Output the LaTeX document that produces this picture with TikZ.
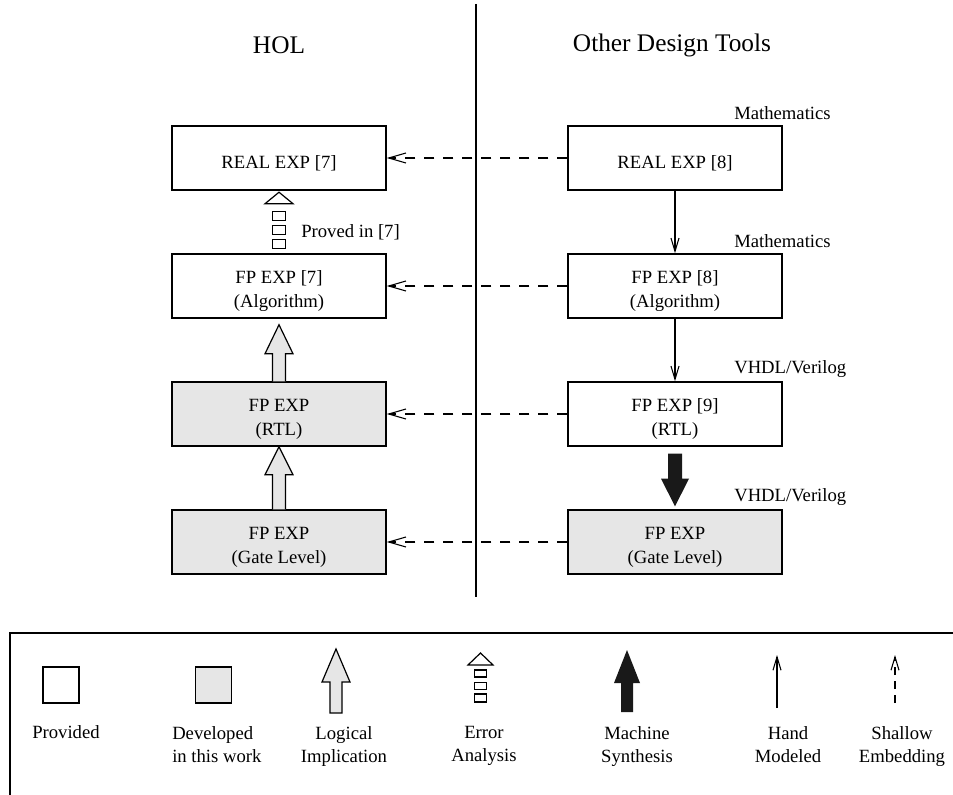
\documentclass[tikz,border=0pt]{standalone}
\usepackage{fontspec}
\setmainfont{Liberation Serif}
\usetikzlibrary{arrows.meta,calc}
\definecolor{devgray}{HTML}{E6E6E6}
\newcommand\bxstrut{\rule{0pt}{17pt}}
\begin{document}
\begin{tikzpicture}[x=0.75pt,y=-0.75pt,
  box/.style={draw,line width=1.1pt,minimum width=160.5pt,minimum height=48pt,inner sep=0pt,
    align=center,font=\fontsize{14}{18}\selectfont},
  devbox/.style={box,fill=devgray},
  head/.style={font=\fontsize{19}{22}\selectfont,inner sep=0pt},
  lbl/.style={font=\fontsize{14}{17}\selectfont,inner sep=0pt},
  leg/.style={font=\fontsize{14}{17.25}\selectfont,inner sep=0pt,align=center},
  dasharrow/.style={line width=0.8pt,dash pattern=on 7.5pt off 6.75pt,
    -{Straight Barb[length=13pt,width=7.5pt,line width=0.8pt]}},
  thinarrow/.style={line width=0.8pt,-{Straight Barb[length=10pt,width=6pt,line width=0.8pt]}},
  fatgray/.style={draw,line width=0.9pt,fill=devgray},
  fatblack/.style={fill=black!90},
  erra/.style={draw,line width=0.9pt,fill=white},
  divider/.style={line width=2pt},
  frame/.style={line width=1pt}
]
\useasboundingbox (0,0) rectangle (953,795);

% headings and divider
\node[head] (hol) at (279,45) {HOL};
\node[head] (odt) at (672,45) {Other Design Tools};
\coordinate (dtop) at (476,4);
\coordinate (dbot) at (476,597);
\draw[divider] (dtop) -- (dbot);

% HOL column
\node[box] (real7) at (279,158) {\bxstrut REAL EXP [7]};
\node[box] (alg7) at (279,286) {\bxstrut FP EXP [7]\\(Algorithm)};
\node[devbox] (rtlH) at (279,414) {\bxstrut FP EXP\\(RTL)};
\node[devbox] (gateH) at (279,542) {\bxstrut FP EXP\\(Gate Level)};

% Other design tools column
\node[box] (real8) at (675,158) {\bxstrut REAL EXP [8]};
\node[box] (alg8) at (675,286) {\bxstrut FP EXP [8]\\(Algorithm)};
\node[box] (rtl9) at (675,414) {\bxstrut FP EXP [9]\\(RTL)};
\node[devbox] (gateO) at (675,542) {\bxstrut FP EXP\\(Gate Level)};

% level labels
\node[lbl,anchor=west] (m1) at (734,113) {Mathematics};
\node[lbl,anchor=west] (m2) at (734,241) {Mathematics};
\node[lbl,anchor=west] (v1) at (734,369) {VHDL/Verilog};
\node[lbl,anchor=west] (v2) at (734,497) {VHDL/Verilog};

% shallow embedding arrows
\draw[dasharrow] (real8.west) -- (real7.east);
\draw[dasharrow] (alg8.west) -- (alg7.east);
\draw[dasharrow] (rtl9.west) -- (rtlH.east);
\draw[dasharrow] (gateO.west) -- (gateH.east);

% hand modeled arrows
\draw[thinarrow] (real8.south) -- (alg8.north);
\draw[thinarrow] (alg8.south) -- (rtl9.north);

% machine synthesis
\fill[fatblack] ($(rtl9.south)+(-7,7)$) -- ($(rtl9.south)+(7,7)$) -- ($(rtl9.south)+(7,32)$)
  -- ($(rtl9.south)+(14,32)$) -- ($(gateO.north)+(0,-3)$) -- ($(rtl9.south)+(-14,32)$)
  -- ($(rtl9.south)+(-7,32)$) -- cycle;

% logical implication arrows
\path[fatgray] ($(rtlH.north)+(-6.5,0)$) -- ($(alg7.south)+(-6.5,35)$) -- ($(alg7.south)+(-14,35)$)
  -- ($(alg7.south)+(0,6)$) -- ($(alg7.south)+(14,35)$) -- ($(alg7.south)+(6.5,35)$)
  -- ($(rtlH.north)+(6.5,0)$);
\path[fatgray] ($(gateH.north)+(-6.5,0)$) -- ($(rtlH.south)+(-6.5,28)$) -- ($(rtlH.south)+(-14,28)$)
  -- ($(rtlH.south)+(0,0)$) -- ($(rtlH.south)+(14,28)$) -- ($(rtlH.south)+(6.5,28)$)
  -- ($(gateH.north)+(6.5,0)$);

% error analysis
\path[erra] ($(real7.south)+(-14,13)$) -- ($(real7.south)+(14,13)$) -- ($(real7.south)+(0,1.5)$) -- cycle;
\path[erra] ($(real7.south)+(-6.5,21)$) rectangle ($(real7.south)+(6.5,29.5)$);
\path[erra] ($(real7.south)+(-6.5,35)$) rectangle ($(real7.south)+(6.5,43.5)$);
\path[erra] ($(real7.south)+(-6.5,49)$) rectangle ($(real7.south)+(6.5,58)$);
\node[lbl,anchor=west] (proved) at (301,232) {Proved in [7]};

% legend frame
\coordinate (fr1) at (953,633);
\coordinate (fr2) at (10,633);
\coordinate (fr3) at (10,795);
\draw[frame] (fr1) -- (fr2) -- (fr3);

% legend: provided
\node[draw,line width=1.1pt,minimum size=27pt,inner sep=0pt] (lprov) at (61,685) {};
\node[leg] (tprov) at (66,732) {Provided};
% legend: developed
\node[draw,line width=1.1pt,fill=devgray,minimum size=27pt,inner sep=0pt] (ldev) at (213.5,685) {};
\node[leg,align=left,anchor=north west] (tdev) at (172,726) {Developed\\in this work};
% legend: logical implication
\coordinate (lli) at (336,713);
\path[fatgray] ($(lli)+(-6,0)$) -- ($(lli)+(-6,-31)$) -- ($(lli)+(-14,-31)$) -- ($(lli)+(0,-64)$)
  -- ($(lli)+(14,-31)$) -- ($(lli)+(6,-31)$) -- ($(lli)+(6,0)$) -- cycle;
\node[leg,anchor=north] (tli) at (344,726) {Logical\\Implication};
% legend: error analysis
\coordinate (lea) at (480.5,702);
\path[erra] ($(lea)+(-12.5,-37)$) -- ($(lea)+(12.5,-37)$) -- ($(lea)+(0,-49)$) -- cycle;
\path[erra] ($(lea)+(-6,-32)$) rectangle ($(lea)+(6,-25)$);
\path[erra] ($(lea)+(-6,-19.5)$) rectangle ($(lea)+(6,-12.5)$);
\path[erra] ($(lea)+(-6,-8)$) rectangle ($(lea)+(6,0)$);
\node[leg,anchor=north] (tea) at (484,726) {Error\\Analysis};
% legend: machine synthesis
\coordinate (lms) at (627,712);
\fill[fatblack] ($(lms)+(-6,0)$) -- ($(lms)+(-6,-29)$) -- ($(lms)+(-13,-29)$) -- ($(lms)+(0,-62)$)
  -- ($(lms)+(13,-29)$) -- ($(lms)+(6,-29)$) -- ($(lms)+(6,0)$) -- cycle;
\node[leg,anchor=north] (tms) at (637,726) {Machine\\Synthesis};
% legend: hand modeled
\coordinate (lhm1) at (777,708);
\coordinate (lhm2) at (777,655);
\draw[thinarrow] (lhm1) -- (lhm2);
\node[leg,anchor=north] (thm) at (788,726) {Hand\\Modeled};
% legend: shallow embedding
\coordinate (lse1) at (895,703);
\coordinate (lse2) at (895,655);
\draw[thinarrow,dash pattern=on 6pt off 4.5pt] (lse1) -- (lse2);
\node[leg,anchor=north] (tse) at (902,726) {Shallow\\Embedding};
\end{tikzpicture}
\end{document}
